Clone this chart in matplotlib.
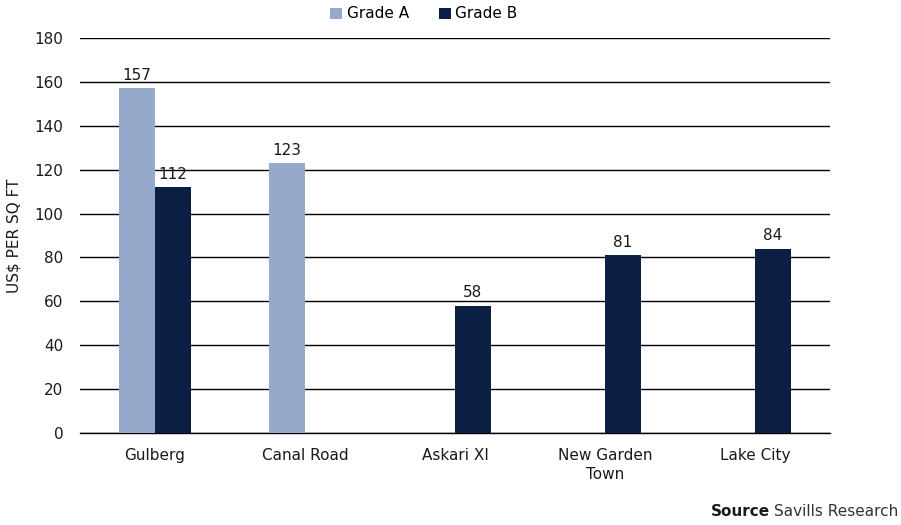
import numpy as np
import matplotlib.pyplot as plt

plt.rcParams['font.family'] = ['DejaVu Sans']

categories = ["Gulberg", "Canal Road", "Askari XI", "New Garden\nTown", "Lake City"]
grade_a = [157, 123, np.nan, np.nan, np.nan]
grade_b = [112, np.nan, 58, 81, 84]
y_ticks = [0, 20, 40, 60, 80, 100, 120, 140, 160, 180]

color_a = "#95A9CB"
color_b = "#0B1F45"
text_color = "#1a1a1a"
fs = 11

fig = plt.figure(figsize=(9.01, 5.25), dpi=100)
ax = fig.add_axes([80 / 901, 1 - 433 / 525, 750 / 901, 395 / 525])

x = np.arange(len(categories))
w = 0.24
bars_a = ax.bar(x - w / 2, grade_a, w, color=color_a, label="Grade A", zorder=3)
bars_b = ax.bar(x + w / 2, grade_b, w, color=color_b, label="Grade B", zorder=3)

for bars, vals in ((bars_a, grade_a), (bars_b, grade_b)):
    for b, v in zip(bars, vals):
        if not np.isnan(v):
            ax.text(b.get_x() + b.get_width() / 2, v + 2.5, f"{v:.0f}",
                    ha="center", va="bottom", fontsize=fs, color=text_color, zorder=4)

ax.set_xlim(-0.5, len(categories) - 0.5)
ax.set_ylim(0, 180)
ax.set_yticks(y_ticks)
ax.set_xticks(x)
ax.set_xticklabels(categories, fontsize=fs, color=text_color, linespacing=1.3)
ax.tick_params(axis="y", length=0, pad=12, labelsize=fs, labelcolor=text_color)
ax.tick_params(axis="x", length=0, pad=11)
ax.yaxis.grid(True, color="#000000", linewidth=1.0, zorder=0)
ax.set_axisbelow(True)
for s in ("left", "right", "top"):
    ax.spines[s].set_visible(False)
ax.spines["bottom"].set_color("#000000")
ax.spines["bottom"].set_linewidth(1.0)

ax.set_ylabel("US$ PER SQ FT", fontsize=fs, color=text_color, labelpad=9)

fig.legend(handles=[bars_a, bars_b], loc="center", bbox_to_anchor=(424 / 901, 1 - 14 / 525),
           ncol=2, frameon=False, fontsize=fs, handlelength=0.75, handleheight=0.75,
           handletextpad=0.3, columnspacing=2.0)

# Source line: bold "Source" placed just left of the regular-weight text
src = fig.text(898 / 901, 1 - 512 / 525, "Savills Research", ha="right", va="center",
               fontsize=fs, color="#333333")
fig.canvas.draw()
bb = src.get_window_extent()
fig.text((bb.x0 - 4) / fig.bbox.width, 1 - 512 / 525, "Source", ha="right", va="center",
         fontsize=fs, fontweight="bold", color=text_color)

fig.savefig("out.png", dpi=100)
